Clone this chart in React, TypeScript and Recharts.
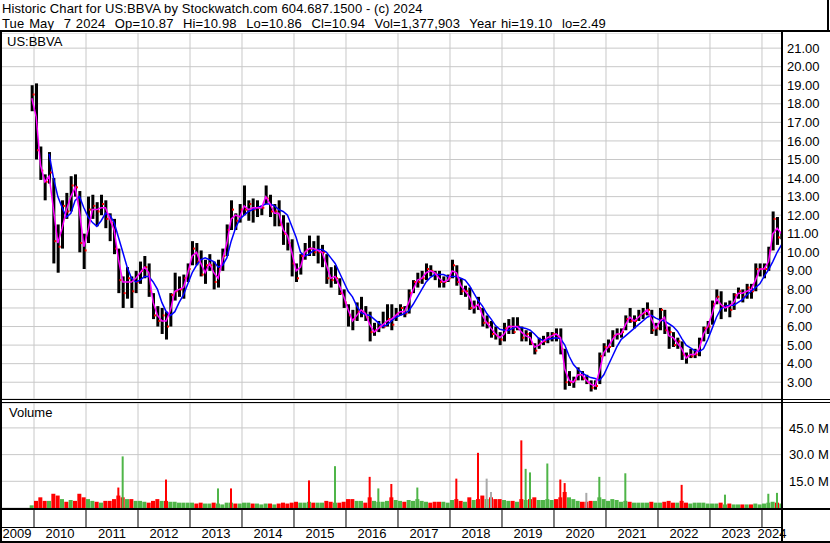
import { ComposedChart, Bar, Line, XAxis, YAxis, CartesianGrid } from 'recharts';

const FONT = '"Liberation Sans", Arial, Helvetica, sans-serif';

// one row per month, first row = Dec 2009, last row = May 2024
const firstYear = 2009;
const firstMonth = 11;

const hi = [
  19.0,
  19.1, 15.7, 14.2, 15.4, 14.0, 11.5, 12.8, 13.2, 14.1, 14.2, 13.3, 11.0,
  13.0, 13.1, 12.7, 13.1, 12.8, 12.1, 11.8, 10.2, 8.7, 9.2, 8.7, 9.0,
  9.5, 9.8, 9.4, 7.8, 7.1, 7.0, 6.8, 7.8, 8.9, 8.7, 8.8, 9.4,
  10.6, 10.5, 10.1, 9.6, 9.9, 9.5, 9.6, 10.2, 11.5, 12.8, 12.1, 12.6,
  13.6, 12.8, 12.9, 12.8, 12.5, 13.6, 13.1, 12.6, 12.8, 12.0, 11.6, 10.7,
  9.4, 9.9, 10.5, 10.9, 10.6, 10.9, 10.4, 9.9, 9.2, 9.3, 8.6, 8.0,
  7.2, 6.9, 7.3, 7.6, 7.1, 6.8, 6.2, 6.3, 6.8, 7.2, 7.2, 7.0,
  7.2, 7.1, 8.0, 8.5, 8.9, 9.0, 9.4, 9.3, 9.0, 9.0, 8.7, 8.8,
  9.6, 9.3, 8.6, 8.2, 8.1, 7.4, 7.6, 7.0, 6.6, 6.3, 6.0, 5.7,
  6.2, 6.4, 6.5, 6.5, 6.0, 5.8, 5.7, 5.1, 5.4, 5.5, 5.7, 5.7,
  5.9, 5.9, 4.8, 3.6, 3.3, 3.8, 3.6, 3.4, 3.1, 3.1, 4.6, 5.1,
  5.3, 5.8, 5.9, 5.9, 6.6, 7.0, 6.6, 6.9, 7.0, 7.3, 6.9, 6.2,
  7.0, 6.9, 6.0, 5.7, 5.4, 5.2, 4.6, 4.8, 4.8, 5.4, 6.0, 6.3,
  7.4, 8.0, 7.9, 7.3, 7.4, 7.8, 8.1, 8.0, 8.3, 8.3, 9.4, 9.4,
  9.4, 10.3, 12.2, 11.9, 11.1,
];

const lo = [
  17.6,
  15.0, 13.9, 12.8, 13.7, 9.4, 8.9, 10.2, 11.8, 12.2, 13.0, 10.0, 9.1,
  10.5, 11.8, 11.4, 12.0, 11.3, 10.6, 9.9, 7.8, 7.0, 7.5, 7.0, 7.8,
  8.3, 8.6, 7.6, 6.4, 6.0, 5.6, 5.3, 6.0, 7.4, 7.6, 7.5, 8.4,
  9.3, 9.3, 8.7, 8.3, 9.0, 8.0, 8.1, 9.0, 9.8, 11.2, 11.2, 11.6,
  12.0, 11.7, 11.6, 11.9, 12.0, 12.6, 11.9, 11.4, 11.4, 10.4, 10.1, 8.7,
  8.4, 8.8, 9.6, 9.8, 9.8, 9.4, 9.2, 8.3, 8.1, 8.3, 7.7, 7.0,
  6.0, 5.8, 6.3, 6.5, 6.3, 5.2, 5.5, 5.7, 5.9, 6.0, 5.8, 6.3,
  6.6, 6.5, 6.7, 7.8, 8.1, 8.3, 8.5, 8.7, 8.5, 8.1, 8.1, 8.4,
  8.6, 8.2, 7.7, 7.6, 6.9, 6.7, 6.9, 6.0, 5.9, 5.4, 5.3, 5.0,
  5.2, 5.6, 5.6, 5.8, 5.2, 5.2, 5.0, 4.5, 4.8, 5.0, 5.1, 5.2,
  5.2, 4.5, 2.6, 2.8, 2.7, 3.1, 3.1, 2.9, 2.5, 2.6, 2.9, 4.4,
  4.6, 4.9, 5.3, 5.4, 5.8, 6.2, 5.9, 6.3, 6.4, 6.6, 5.6, 5.5,
  5.8, 5.6, 4.8, 4.9, 4.8, 4.2, 4.0, 4.3, 4.3, 4.4, 5.2, 5.6,
  6.1, 7.2, 6.4, 6.8, 6.5, 6.9, 7.5, 7.3, 7.5, 7.5, 7.9, 8.7,
  8.6, 9.0, 10.1, 10.4, 10.7,
];

const cl = [
  18.5,
  15.5, 14.4, 13.8, 14.3, 10.6, 10.3, 12.5, 12.2, 13.6, 13.5, 10.5, 10.1,
  12.3, 12.5, 12.2, 12.6, 11.8, 11.6, 10.2, 8.5, 7.8, 8.6, 7.9, 8.4,
  9.0, 9.2, 7.9, 6.6, 6.3, 6.6, 6.0, 7.7, 7.9, 8.0, 8.6, 9.1,
  10.2, 9.5, 8.8, 9.3, 9.3, 8.4, 9.1, 9.8, 11.2, 12.3, 11.7, 12.3,
  12.3, 12.6, 12.3, 12.4, 12.4, 12.9, 12.2, 12.2, 11.5, 11.0, 10.5, 9.4,
  8.6, 9.8, 10.1, 10.2, 10.0, 10.0, 10.0, 8.6, 8.5, 8.6, 7.8, 7.3,
  6.6, 6.4, 6.8, 6.8, 6.5, 5.7, 5.8, 6.0, 6.0, 6.4, 6.1, 6.7,
  7.0, 6.7, 7.8, 8.4, 8.4, 8.6, 9.1, 9.0, 8.8, 8.4, 8.4, 8.6,
  9.3, 8.4, 7.9, 7.9, 7.0, 7.1, 7.0, 6.2, 6.2, 5.6, 5.5, 5.3,
  5.9, 6.0, 5.7, 6.0, 5.4, 5.6, 5.1, 4.7, 5.1, 5.2, 5.4, 5.6,
  5.4, 4.8, 3.0, 3.0, 3.1, 3.4, 3.2, 3.0, 2.7, 2.8, 4.4, 4.9,
  4.9, 5.5, 5.6, 5.7, 6.4, 6.3, 6.3, 6.6, 6.7, 6.9, 5.8, 5.9,
  6.9, 5.8, 5.7, 5.0, 5.2, 4.5, 4.4, 4.4, 4.5, 5.2, 5.9, 6.0,
  7.2, 7.6, 7.1, 7.1, 6.9, 7.7, 7.9, 7.6, 8.1, 7.9, 9.1, 9.1,
  9.1, 10.1, 11.8, 10.8, 10.94,
];

// short moving average (magenta)
const ma1 = [
  18.3,
  17.3, 14.7, 13.8, 14.1, 12.3, 10.5, 11.3, 12.3, 13.0, 13.5, 12.2, 10.3,
  11.2, 12.3, 12.3, 12.4, 12.4, 11.8, 11.2, 9.6, 8.4, 8.4, 8.4, 8.6,
  8.9, 9.2, 8.9, 7.3, 6.6, 6.3, 6.3, 6.9, 7.9, 8.0, 8.1, 8.9,
  9.8, 10.0, 9.4, 8.9, 9.4, 8.9, 8.6, 9.6, 10.5, 11.8, 12.0, 11.9,
  12.5, 12.3, 12.4, 12.4, 12.4, 13.0, 12.6, 12.1, 12.1, 11.2, 10.9, 10.0,
  9.0, 9.2, 10.0, 10.2, 10.2, 10.1, 10.0, 9.3, 8.6, 8.7, 8.2, 7.6,
  6.9, 6.3, 6.6, 6.9, 6.7, 6.1, 5.7, 5.9, 6.1, 6.3, 6.4, 6.6,
  6.8, 6.8, 7.3, 8.0, 8.5, 8.6, 8.9, 9.0, 8.9, 8.6, 8.4, 8.5,
  9.0, 8.9, 8.2, 7.9, 7.6, 7.0, 7.2, 6.6, 6.2, 5.9, 5.6, 5.4,
  5.6, 6.0, 6.0, 6.0, 5.7, 5.5, 5.4, 4.9, 5.0, 5.2, 5.4, 5.5,
  5.6, 5.4, 3.7, 3.1, 3.0, 3.4, 3.4, 3.1, 2.9, 2.8, 3.6, 4.6,
  4.9, 5.3, 5.6, 5.6, 6.1, 6.5, 6.3, 6.5, 6.7, 6.9, 6.4, 5.9,
  6.3, 6.5, 5.5, 5.4, 5.1, 4.8, 4.3, 4.5, 4.5, 4.8, 5.6, 6.0,
  6.7, 7.5, 7.2, 7.0, 7.1, 7.3, 7.8, 7.8, 7.9, 8.0, 8.5, 9.1,
  9.1, 9.5, 11.0, 11.3, 11.0,
];

// long moving average (blue)
const ma2 = [
  null,
  null, null, null, 15.3, 14.0, 13.0, 12.4, 11.9, 12.1, 12.8, 13.0, 12.4,
  11.9, 11.6, 11.4, 11.7, 12.1, 12.0, 11.6, 10.8, 10.0, 9.2, 8.6, 8.4,
  8.5, 8.7, 8.7, 8.4, 8.0, 7.3, 6.8, 6.6, 6.8, 7.3, 7.7, 8.3,
  8.9, 9.3, 9.6, 9.7, 9.6, 9.5, 9.2, 9.3, 9.7, 10.6, 11.3, 11.8,
  12.0, 12.2, 12.3, 12.4, 12.5, 12.6, 12.6, 12.5, 12.3, 12.2, 12.0, 11.4,
  10.8, 10.0, 9.8, 9.9, 10.1, 10.15, 10.15, 10.0, 9.7, 9.4, 8.9, 8.4,
  7.9, 7.6, 7.1, 6.75, 6.65, 6.6, 6.4, 6.2, 6.0, 6.1, 6.3, 6.5,
  6.6, 6.7, 6.85, 7.2, 7.6, 8.0, 8.4, 8.65, 8.8, 8.8, 8.8, 8.7,
  8.7, 8.7, 8.6, 8.5, 8.2, 7.8, 7.4, 7.1, 6.7, 6.4, 6.05, 5.85,
  5.8, 5.8, 5.9, 6.0, 5.95, 5.9, 5.8, 5.6, 5.35, 5.25, 5.3, 5.35,
  5.4, 5.35, 5.0, 4.4, 3.95, 3.7, 3.5, 3.35, 3.25, 3.2, 3.1, 3.4,
  3.9, 4.4, 4.9, 5.3, 5.5, 5.7, 5.9, 6.1, 6.3, 6.5, 6.6, 6.45,
  6.35, 6.3, 6.15, 6.0, 5.75, 5.35, 5.0, 4.85, 4.7, 4.65, 4.8, 5.3,
  5.9, 6.5, 6.95, 7.1, 7.15, 7.15, 7.3, 7.45, 7.7, 7.9, 8.1, 8.3,
  8.7, 9.05, 9.5, 10.0, 10.4,
];

// typical volume level per month, millions
const vol = [
  1.5,
  4, 6, 4, 4, 8, 7, 5, 3.5, 4.5, 4, 8, 6,
  5, 4, 3.5, 3, 4, 4, 5, 7, 6, 5, 5, 4,
  4, 3.5, 3, 4, 5, 4, 4, 3.5, 3.5, 3, 3, 3,
  3, 2.5, 3, 2.5, 2.5, 3, 2.5, 2, 3, 3, 2.5, 2.5,
  3, 3, 2.5, 2.5, 2, 2.5, 2.5, 2, 2.5, 3, 2.5, 3,
  3.5, 3, 3, 3.5, 3, 3, 3, 4, 3.5, 3, 3, 3.5,
  5, 5, 4, 4, 3, 6, 4, 3.5, 3.5, 4, 6, 4.5,
  4, 3.5, 4.5, 4, 5, 4, 3.5, 3, 3.5, 3.5, 3.5, 3,
  4.5, 5, 4, 3.5, 6, 4.5, 5, 7, 5, 6, 5, 5,
  4.5, 4, 4, 3.5, 5, 4.5, 5, 6, 4.5, 4.5, 5, 4.5,
  5, 6, 9, 6, 5, 4, 3.5, 3.5, 4, 4, 6, 5,
  4, 5, 4.5, 3.5, 4, 3.5, 3, 3, 3, 3, 3.5, 3,
  3, 3.5, 4, 3, 3, 4, 3, 2.5, 3, 3, 3, 2.5,
  2.5, 2.5, 3, 2, 2.5, 2, 2, 2, 2, 2, 2.5, 2,
  2.5, 3, 3.5, 3, 2.5,
];

// single-day volume spikes, millions
const spikes = [
  { m: '2011-08', v: 11.5, dir: 'down' },
  { m: '2011-09', v: 29, dir: 'up' },
  { m: '2012-07', v: 16, dir: 'down' },
  { m: '2013-07', v: 11, dir: 'up' },
  { m: '2013-10', v: 11, dir: 'down' },
  { m: '2015-04', v: 15.5, dir: 'down' },
  { m: '2015-10', v: 23.5, dir: 'up' },
  { m: '2016-06', v: 17.5, dir: 'down' },
  { m: '2016-08', v: 11, dir: 'up' },
  { m: '2016-11', v: 13.5, dir: 'down' },
  { m: '2017-05', v: 11.5, dir: 'up' },
  { m: '2018-02', v: 16.5, dir: 'down' },
  { m: '2018-07', v: 31, dir: 'down' },
  { m: '2018-09', v: 16.5, dir: 'flat' },
  { m: '2018-10', v: 9, dir: 'flat' },
  { m: '2019-05', v: 38, dir: 'down' },
  { m: '2019-06', v: 22, dir: 'up' },
  { m: '2019-07', v: 20, dir: 'up' },
  { m: '2019-11', v: 25, dir: 'up' },
  { m: '2020-02', v: 16, dir: 'down' },
  { m: '2020-03', v: 14, dir: 'down' },
  { m: '2020-08', v: 8.5, dir: 'flat' },
  { m: '2020-11', v: 17.5, dir: 'up' },
  { m: '2021-05', v: 19.5, dir: 'up' },
  { m: '2022-06', v: 13, dir: 'down' },
  { m: '2023-04', v: 7.5, dir: 'up' },
  { m: '2024-02', v: 8, dir: 'up' },
  { m: '2024-04', v: 8.5, dir: 'up' },
];

const yearLabels = [2009, 2010, 2011, 2012, 2013, 2014, 2015, 2016, 2017, 2018, 2019, 2020, 2021, 2022, 2023, 2024];
const yearStarts = yearLabels.slice(1);
const priceTicks = [3, 4, 5, 6, 7, 8, 9, 10, 11, 12, 13, 14, 15, 16, 17, 18, 19, 20, 21];
const volTicks = [15, 30, 45];

const X_MIN = 2009.346;
const X_MAX = 2024.385;

const GREEN = '#4fb548';
const RED = '#ff0000';
const GRAY = '#a9a9a9';
const GRID = '#c8c8c8';

const monthIndex = (s: string) => {
  const [y, m] = s.split('-').map(Number);
  return (y - firstYear) * 12 + (m - 1) - firstMonth;
};
const monthT = (i: number) => firstYear + (firstMonth + i + 0.5) / 12;

const priceData = hi.map((h, i) => ({
  t: monthT(i),
  range: [lo[i], h],
  hi: h,
  lo: lo[i],
  cl: cl[i],
  ma1: ma1[i],
  ma2: ma2[i],
}));

const volData = vol.map((v, i) => {
  const s = spikes.find((sp) => monthIndex(sp.m) === i);
  const up = i === 0 ? true : cl[i] >= cl[i - 1];
  return {
    t: monthT(i),
    vol: v,
    top: Math.max(v, s ? s.v : 0),
    spike: s ? s.v : 0,
    spikeDir: s ? s.dir : '',
    up,
  };
});

// label sits in the middle of each year's visible span
const labelTicks = yearLabels.map((y) => (Math.max(y, X_MIN) + Math.min(y + 1, X_MAX)) / 2);

const PriceBar = (props: any) => {
  const { x, y, width, height, payload } = props;
  const top = Math.min(y, y + height);
  const h = Math.max(Math.abs(height), 1);
  const span = payload.hi - payload.lo || 1;
  const cy = top + (h * (payload.hi - payload.cl)) / span;
  return (
    <g>
      <rect x={x} y={top} width={width} height={h} fill="#000" />
      <rect x={x + width - 1} y={cy - 1} width={2} height={2} fill={RED} />
    </g>
  );
};

const VolBar = (props: any) => {
  const { x, y, width, height, payload } = props;
  if (!payload || !payload.top) return null;
  const base = y + height;
  const hBase = (height * payload.vol) / payload.top;
  const hSpike = (height * payload.spike) / payload.top;
  const spikeColor = payload.spikeDir === 'up' ? GREEN : payload.spikeDir === 'down' ? RED : GRAY;
  return (
    <g>
      <rect x={x} y={base - hBase} width={width} height={hBase} fill={payload.up ? GREEN : RED} />
      {payload.spike > 0 && (
        <rect x={x + width / 2 - 1} y={base - hSpike} width={2} height={hSpike} fill={spikeColor} />
      )}
    </g>
  );
};

const YearLabel = (props: any) => {
  const { x, y, payload } = props;
  return (
    <text x={x} y={y} dy="0.71em" textAnchor="middle" fontSize={13} fontFamily={FONT} fill="#000">
      {Math.floor(payload.value)}
    </text>
  );
};

const line = (style: any) => (
  <div style={{ position: 'absolute', background: '#000', zIndex: 5, ...style }} />
);

export default function App() {
  const tickStyle = { fontSize: 13, fontFamily: FONT, fill: '#000' };
  return (
    <div
      style={{
        position: 'absolute',
        left: 0,
        top: 0,
        width: 830,
        height: 543,
        background: '#fff',
        overflow: 'hidden',
        fontFamily: FONT,
      }}
    >
      <div
        style={{
          position: 'absolute',
          left: 2,
          top: 1,
          fontSize: 13,
          lineHeight: '15px',
          whiteSpace: 'pre',
          color: '#000',
        }}
      >
        <div style={{ letterSpacing: 0.1 }}>Historic Chart for US:BBVA by Stockwatch.com 604.687.1500 - (c) 2024</div>
        <div style={{ wordSpacing: 1, letterSpacing: 0.15 }}>
          {'Tue May  7 2024  Op=10.87  Hi=10.98  Lo=10.86  Cl=10.94  Vol=1,377,903  Year hi=19.10  lo=2.49'}
        </div>
      </div>

      <div style={{ position: 'absolute', left: 0, top: 33 }}>
        <ComposedChart width={830} height={366} data={priceData} margin={{ top: 0, right: 0, bottom: 0, left: 0 }}>
          <CartesianGrid stroke={GRID} strokeWidth={1} />
          <XAxis
            dataKey="t"
            type="number"
            domain={[X_MIN, X_MAX]}
            ticks={yearStarts}
            allowDataOverflow
            hide
          />
          <YAxis
            orientation="right"
            width={48}
            type="number"
            domain={[2.096, 21.815]}
            ticks={priceTicks}
            interval={0}
            allowDataOverflow
            axisLine={false}
            tickLine={false}
            tickSize={0}
            tickMargin={5}
            tick={tickStyle}
            tickFormatter={(v: number) => v.toFixed(2)}
          />
          <Bar dataKey="range" barSize={3} shape={PriceBar} isAnimationActive={false} />
          <Line type="linear" dataKey="ma2" stroke="#0000ff" strokeWidth={1.5} dot={false} isAnimationActive={false} />
          <Line type="linear" dataKey="ma1" stroke="#ff00ff" strokeWidth={1.5} dot={false} isAnimationActive={false} />
        </ComposedChart>
      </div>
      <div style={{ position: 'absolute', left: 7, top: 34, fontSize: 13, zIndex: 6 }}>US:BBVA</div>

      <div style={{ position: 'absolute', left: 0, top: 403 }}>
        <ComposedChart width={830} height={140} data={volData} margin={{ top: 0, right: 0, bottom: 0, left: 0 }}>
          <CartesianGrid stroke={GRID} strokeWidth={1} xAxisId="a_ticks" />
          <XAxis
            xAxisId="a_ticks"
            dataKey="t"
            type="number"
            domain={[X_MIN, X_MAX]}
            ticks={yearStarts}
            interval={0}
            allowDataOverflow
            height={19}
            axisLine={false}
            tickLine={{ stroke: '#000' }}
            tickSize={19}
            tick={() => <g />}
          />
          <XAxis
            xAxisId="b_labels"
            dataKey="t"
            type="number"
            domain={[X_MIN, X_MAX]}
            ticks={labelTicks}
            interval={0}
            allowDataOverflow
            height={16}
            axisLine={false}
            tickLine={false}
            tickSize={0}
            tickMargin={2}
            tick={<YearLabel />}
          />
          <YAxis
            orientation="right"
            width={48}
            type="number"
            domain={[0, 59]}
            ticks={volTicks}
            interval={0}
            allowDataOverflow
            axisLine={false}
            tickLine={false}
            tickSize={0}
            tickMargin={7}
            tick={tickStyle}
            tickFormatter={(v: number) => `${v.toFixed(1)} M`}
          />
          <Bar xAxisId="a_ticks" dataKey="top" barSize={4} shape={VolBar} isAnimationActive={false} />
        </ComposedChart>
      </div>
      <div style={{ position: 'absolute', left: 9, top: 405, fontSize: 13, zIndex: 6 }}>Volume</div>

      {line({ left: 0, top: 30, width: 830, height: 2 })}
      {line({ left: 827, top: 0, width: 2, height: 31 })}
      {line({ left: 0, top: 30, width: 2, height: 513 })}
      {line({ left: 781, top: 30, width: 2, height: 513 })}
      {line({ left: 0, top: 399, width: 830, height: 1 })}
      {line({ left: 0, top: 402, width: 830, height: 1 })}
      {line({ left: 0, top: 508, width: 830, height: 2 })}
      {line({ left: 0, top: 527, width: 783, height: 1 })}
      {line({ left: 0, top: 541, width: 830, height: 2 })}
    </div>
  );
}
